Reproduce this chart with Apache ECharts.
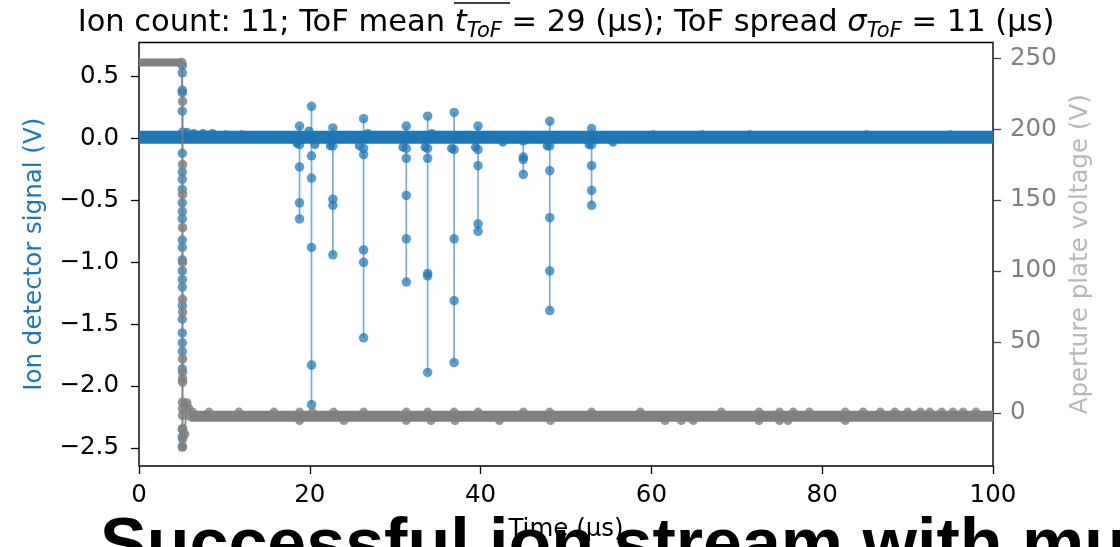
<!DOCTYPE html>
<html><head><meta charset="utf-8">
<script src="https://cdn.jsdelivr.net/npm/echarts@6/dist/echarts.min.js"></script>
<style>html,body{margin:0;padding:0;background:#fff;overflow:hidden}#c{width:1120px;height:547px}</style>
</head><body><div id="c"></div>
<script>
// ---- tick labels ----
const xTicks = [0, 20, 40, 60, 80, 100];
const leftTicks = [-2.5, -2.0, -1.5, -1.0, -0.5, 0.0, 0.5];
const rightTicks = [0, 50, 100, 150, 200, 250];

// ---- ion detector signal (V), blue ----
const blueBaseTime = [0, 5, 10, 15, 20, 25, 30, 35, 40, 45, 50, 55, 60, 65, 70, 75, 80, 85, 90, 95, 100];
const blueBaseVolt = [0.01, 0.01, 0.01, 0.01, 0.01, 0.01, 0.01, 0.01, 0.01, 0.01, 0.01, 0.01, 0.01, 0.01, 0.01, 0.01, 0.01, 0.01, 0.01, 0.01, 0.01];
const blueTransientTime = 5.07;
const blueTransientVolt = [0.59, 0.53, 0.39, 0.37, 0.22, 0.05, -0.12, -0.27, -0.33, -0.41, -0.52, -0.59, -0.65, -0.82, -0.88, -0.98, -1.07, -1.14, -1.20, -1.35, -1.46, -1.57, -1.65, -1.72, -1.86, -2.35, -2.41, -2.49];
const spikeTimes = [18.8, 20.2, 22.7, 26.3, 31.3, 33.8, 36.9, 39.7, 45.0, 48.1, 53.0];
const spikeVolts = [
  [0.10, 0.0, -0.05, -0.23, -0.52, -0.65],
  [0.26, 0.0, -0.14, -0.32, -0.88, -1.83, -2.15],
  [0.085, 0.0, -0.06, -0.49, -0.54, -0.94],
  [0.16, 0.0, -0.08, -0.13, -0.90, -1.00, -1.61],
  [0.10, 0.0, -0.08, -0.16, -0.46, -0.81, -1.16],
  [0.18, 0.0, -0.08, -0.16, -1.09, -1.11, -1.89],
  [0.21, 0.0, -0.09, -0.81, -1.31, -1.81],
  [0.10, 0.0, -0.09, -0.22, -0.69, -0.75],
  [0.0, -0.02, -0.15, -0.17, -0.29],
  [0.14, 0.0, -0.06, -0.26, -0.64, -1.07, -1.39],
  [0.08, 0.0, -0.05, -0.22, -0.42, -0.54]
];
const blueNoiseTime = [5.6, 6.4, 7.5, 8.6, 10.2, 12.0, 18.5, 19.9, 20.6, 22.4, 25.8, 26.8, 30.9, 33.5, 34.3, 36.6, 39.4, 42.6, 47.8, 52.7, 55.5, 60.2, 66.0, 71.5, 85.2, 95.0];
const blueNoiseVolt = [0.05, 0.04, 0.04, 0.04, 0.03, 0.03, -0.04, 0.06, -0.05, -0.06, -0.06, 0.04, -0.07, -0.07, 0.04, -0.08, -0.07, -0.03, -0.06, -0.05, -0.03, 0.03, 0.03, 0.03, 0.03, 0.03];

// ---- aperture plate voltage (V), gray ----
const grayHighTime = [0, 5.0];
const grayHighVolt = [247, 247];
const grayTransientTime = [5.0, 5.1, 5.1, 5.1, 5.1, 5.1, 5.1, 5.1, 5.1, 5.1, 5.1, 5.1, 5.1, 5.1, 5.1, 5.1, 5.1, 5.1, 5.35, 5.6, 5.8, 6.0];
const grayTransientVolt = [247, 219.5, 175, 154, 130.5, 106, 80, 71, 38, 28.6, 23.9, 21.6, 7.5, 2.8, -1.9, -11.2, -18.3, -24, -15, 7, 3, -2.5];
const grayLowTime = [6, 10, 20, 30, 40, 50, 60, 70, 80, 90, 100];
const grayLowVolt = [-2.5, -2.5, -2.5, -2.5, -2.5, -2.5, -2.5, -2.5, -2.5, -2.5, -2.5];
const grayNoiseTime = [6.3, 8.2, 11.7, 15.8, 18.8, 20.3, 22.8, 26.3, 31.3, 33.8, 36.9, 39.7, 45.0, 48.1, 53.0, 58.7, 68.2, 72.6, 75.0, 76.6, 78.5, 82.7, 84.8, 86.8, 88.5, 90.0, 91.5, 92.6, 94.0, 95.3, 96.5, 98.0,
                       18.8, 24.0, 31.3, 34.2, 37.0, 42.2, 48.2, 61.6, 63.5, 64.9, 72.6, 75.0, 76.0, 82.7];
const grayNoiseVolt = [0.5, 0.5, 0.5, 0.5, 0.5, 0.5, 0.5, 0.5, 0.5, 0.5, 0.5, 0.5, 0.5, 0.5, 0.5, 0.5, 0.5, 0.5, 0.5, 0.5, 0.5, 0.5, 0.5, 0.5, 0.5, 0.5, 0.5, 0.5, 0.5, 0.5, 0.5, 0.5,
                       -5.5, -5.5, -5.5, -5.5, -5.5, -5.5, -5.5, -5.5, -5.5, -5.5, -5.5, -5.5, -5.5, -5.5];

// ---- texts ----
const titleText = '{n|Ion count: 11; ToF mean }{it|t}{sub|ToF}{n| = 29 (µs); ToF spread }{it|σ}{sub|ToF}{n| = 11 (µs)}';
const xName = 'Time (µs)';
const leftName = 'Ion detector signal (V)';
const rightName = 'Aperture plate voltage (V)';
const bottomText = 'Successful ion stream with multiple ions detected';

const BLUE = '#1f77b4', GRAY = '#808080';
const zip = (a, b) => a.map((v, i) => [v, b[i]]);
const fmtL = v => (v < 0 ? '\u2212' : '') + Math.abs(v).toFixed(1);
const FONT = 'DejaVu Sans';
const FS = 24.5;

const dotStyle = {color: BLUE, opacity: 0.72};
const lineStyleB = {color: BLUE, width: 1.7, opacity: 0.6};
const series = [];
series.push({type: 'line', yAxisIndex: 0, data: zip(blueBaseTime, blueBaseVolt), symbol: 'none',
  lineStyle: {color: BLUE, width: 13, cap: 'butt'}, silent: true, z: 2});
series.push({type: 'scatter', yAxisIndex: 0, data: zip(blueNoiseTime, blueNoiseVolt), symbolSize: 9,
  itemStyle: {color: BLUE, opacity: 0.8}, z: 2});
series.push({type: 'line', yAxisIndex: 0, data: blueTransientVolt.map(v => [blueTransientTime, v]),
  symbol: 'circle', symbolSize: 9.5, showSymbol: true, itemStyle: dotStyle, lineStyle: lineStyleB, z: 3});
spikeTimes.forEach((t, i) => {
  series.push({type: 'line', yAxisIndex: 0, data: spikeVolts[i].map(v => [t, v]),
    symbol: 'circle', symbolSize: 9.5, showSymbol: true, itemStyle: dotStyle, lineStyle: lineStyleB, z: 3});
});
series.push({type: 'line', yAxisIndex: 1, data: zip(grayHighTime, grayHighVolt), symbol: 'none',
  lineStyle: {color: GRAY, width: 8, cap: 'butt'}, z: 4});
series.push({type: 'line', yAxisIndex: 1, data: zip(grayTransientTime, grayTransientVolt),
  symbol: 'circle', symbolSize: 9.5, showSymbol: true, itemStyle: {color: GRAY, opacity: 0.85},
  lineStyle: {color: GRAY, width: 1.7}, z: 4});
series.push({type: 'line', yAxisIndex: 1, data: zip(grayLowTime, grayLowVolt), symbol: 'none',
  lineStyle: {color: GRAY, width: 11, cap: 'butt'}, z: 4});
series.push({type: 'scatter', yAxisIndex: 1, data: zip(grayNoiseTime, grayNoiseVolt), symbolSize: 9,
  itemStyle: {color: GRAY}, z: 4});

const chart = echarts.init(document.getElementById('c'), null, {renderer: 'canvas'});
chart.setOption({
  backgroundColor: '#fff',
  animation: false,
  grid: {left: 139, right: 127, top: 42.5, bottom: 79.7, show: true, borderColor: '#000', borderWidth: 1.4, backgroundColor: 'transparent', containLabel: false},
  xAxis: {type: 'value', min: 0, max: 100, interval: 20,
    axisLine: {show: false, onZero: false}, splitLine: {show: false},
    axisTick: {show: true, inside: false, length: 8, lineStyle: {color: '#000', width: 1.3}},
    axisLabel: {color: '#000', fontSize: FS, fontFamily: FONT, margin: 17},
    name: xName, nameLocation: 'middle', nameGap: 51,
    nameTextStyle: {color: '#000', fontSize: FS, fontFamily: FONT}},
  yAxis: [
    {type: 'value', min: -2.645, max: 0.775, position: 'left',
      axisLine: {show: false}, splitLine: {show: false},
      axisTick: {show: true, inside: false, length: 8, customValues: leftTicks, lineStyle: {color: '#000', width: 1.3}},
      axisLabel: {customValues: leftTicks, formatter: fmtL, color: '#000', fontSize: FS, fontFamily: FONT, margin: 20},
      name: leftName, nameLocation: 'middle', nameGap: 92,
      nameTextStyle: {color: BLUE, fontSize: FS, fontFamily: FONT}},
    {type: 'value', min: -37.5, max: 261.1, position: 'right',
      axisLine: {show: false}, splitLine: {show: false},
      axisTick: {show: true, inside: false, length: 8, customValues: rightTicks, lineStyle: {color: '#444', width: 1.3}},
      axisLabel: {customValues: rightTicks, color: GRAY, fontSize: FS, fontFamily: FONT, margin: 17},
      name: rightName, nameLocation: 'middle', nameGap: 74,
      nameTextStyle: {color: '#b8b8b8', fontSize: FS, fontFamily: FONT}}
  ],
  graphic: [
    {type: 'text', x: 566, y: 4.5, z: 10, style: {text: titleText, align: 'center', verticalAlign: 'top', fill: '#000',
      rich: {
        n: {fontSize: 30.5, fontFamily: FONT, lineHeight: 38, verticalAlign: 'middle'},
        it: {fontSize: 30.5, fontFamily: FONT, fontStyle: 'italic', lineHeight: 38, verticalAlign: 'middle'},
        sub: {fontSize: 21, fontFamily: FONT, fontStyle: 'italic', lineHeight: 18, verticalAlign: 'bottom'}
      }}},
    {type: 'line', z: 10, shape: {x1: 454, y1: 3, x2: 510, y2: 3}, style: {stroke: '#000', lineWidth: 1.5}},
    {type: 'text', x: 100, y: 513, z: -1, style: {text: bottomText, fill: '#000', font: 'bold 70px "Liberation Sans", Arial, sans-serif', align: 'left', verticalAlign: 'top'}}
  ],
  series: series
});
</script></body></html>
